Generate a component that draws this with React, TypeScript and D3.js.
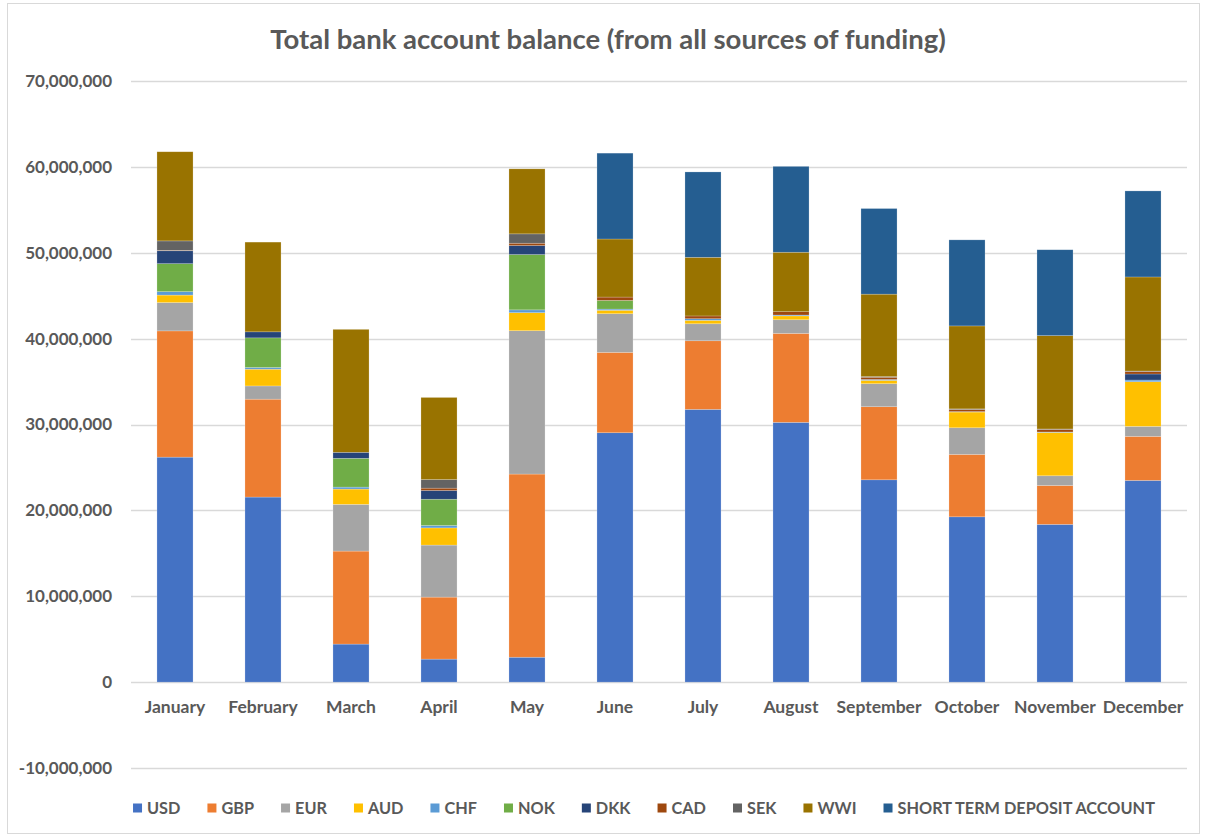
import React from "react";
import * as d3 from "d3";

const months = ["January","February","March","April","May","June","July","August","September","October","November","December"];
const seriesNames = ["USD","GBP","EUR","AUD","CHF","NOK","DKK","CAD","SEK","WWI","SHORT TERM DEPOSIT ACCOUNT"];
const seriesColors = ["#4472C4","#ED7D31","#A5A5A5","#FFC000","#5B9BD5","#70AD47","#264478","#9E480E","#636363","#997300","#255E91"];

const USD = [26_200_000,21_550_000,4_430_000,2_680_000,2_900_000,29_040_000,31_760_000,30_250_000,23_560_000,19_250_000,18_370_000,23_490_000];
const GBP = [14_700_000,11_400_000,10_830_000,7_220_000,21_330_000,9_360_000,7_990_000,10_360_000,8_510_000,7_270_000,4_530_000,5_130_000];
const EUR = [3_300_000,1_540_000,5_440_000,6_060_000,16_690_000,4_500_000,1_980_000,1_590_000,2_680_000,3_100_000,1_130_000,1_160_000];
const AUD = [870_000,1_950_000,1_780_000,2_000_000,2_100_000,400_000,400_000,450_000,390_000,1_830_000,5_050_000,5_200_000];
const CHF = [400_000,200_000,230_000,280_000,330_000,140_000,190_000,100_000,110_000,50_000,50_000,200_000];
const NOK = [3_260_000,3_450_000,3_350_000,3_060_000,6_440_000,1_010_000,0,0,0,0,0,0];
const DKK = [1_500_000,700_000,700_000,1_020_000,1_050_000,0,0,0,0,0,0,700_000];
const CAD = [50_000,0,0,270_000,270_000,390_000,320_000,390_000,250_000,250_000,300_000,300_000];
const SEK = [1_100_000,0,0,1_000_000,1_090_000,0,0,0,80_000,70_000,50_000,50_000];
const WWI = [10_380_000,10_450_000,14_320_000,9_560_000,7_570_000,6_760_000,6_830_000,6_920_000,9_600_000,9_660_000,10_870_000,10_950_000];
const STD = [0,0,0,0,0,10_000_000,9_940_000,10_000_000,9_970_000,10_020_000,10_000_000,10_020_000];

const seriesValues = [USD, GBP, EUR, AUD, CHF, NOK, DKK, CAD, SEK, WWI, STD];
const yTicks = [-10_000_000,0,10_000_000,20_000_000,30_000_000,40_000_000,50_000_000,60_000_000,70_000_000];
const yTickLabels = ["-10,000,000","0","10,000,000","20,000,000","30,000,000","40,000,000","50,000,000","60,000,000","70,000,000"];
const title = "Total bank account balance (from all sources of funding)";

const W = 1205, H = 837;
const FONT = "Lato, 'Open Sans', sans-serif";
const TXT = "#595959";

function measure(text: string, font: string): number {
  const c = document.createElement("canvas");
  const ctx = c.getContext("2d")!;
  ctx.font = font;
  return ctx.measureText(text).width;
}

export default function App() {
  const plot = { left: 131, right: 1187, top: 81, bottom: 768 };
  const x = d3.scaleBand<string>().domain(months).range([plot.left, plot.right]).paddingInner(0.59).paddingOuter(0.295);
  const y = d3.scaleLinear().domain([-10_000_000, 70_000_000]).range([plot.bottom, plot.top]);

  const rows = months.map((m, i) => {
    const r: any = { month: m };
    seriesNames.forEach((s, j) => (r[s] = seriesValues[j][i]));
    return r;
  });
  const stacked = d3.stack<any>().keys(seriesNames)(rows);

  // legend layout
  const legendFontSize = 16.3;
  const legendFont = `bold ${legendFontSize}px ${FONT}`;
  const marker = 9, mGap = 5, itemGap = 27;
  const widths = seriesNames.map((s) => marker + mGap + measure(s, legendFont));
  const total = d3.sum(widths) + itemGap * (seriesNames.length - 1);
  let cursor = 645 - total / 2;
  const legendItems = seriesNames.map((s, i) => {
    const item = { name: s, x: cursor, color: seriesColors[i] };
    cursor += widths[i] + itemGap;
    return item;
  });
  const legendY = 808;

  return (
    <svg width={W} height={H} style={{ position: "absolute", left: 0, top: 0, background: "#fff" }} fontFamily={FONT}>
      <rect x={7.5} y={3.5} width={1192} height={830} fill="#fff" stroke="#d9d9d9" strokeWidth={1} />
      <text x={608} y={49} textAnchor="middle" fontSize={27.5} fontWeight="bold" fill={TXT}>{title}</text>
      {yTicks.map((t, i) => (
        <g key={t}>
          <line x1={plot.left} x2={plot.right} y1={Math.round(y(t)) + 0.5} y2={Math.round(y(t)) + 0.5} stroke="#d9d9d9" strokeWidth={1.3} />
          <text x={112} y={y(t)} dy="0.35em" textAnchor="end" fontSize={17} fontWeight="bold" fill={TXT}>{yTickLabels[i]}</text>
        </g>
      ))}
      {stacked.map((layer, si) => (
        <g key={layer.key} fill={seriesColors[si]}>
          {layer.map((d, mi) => {
            const h = y(d[0]) - y(d[1]);
            if (h <= 0) return null;
            return (
              <rect key={mi} x={x(months[mi])} y={y(d[1])} width={x.bandwidth()} height={h}
                stroke="#ffffff" strokeOpacity={0.35} strokeWidth={0.6} />
            );
          })}
        </g>
      ))}
      {months.map((m) => (
        <text key={m} x={(x(m) as number) + x.bandwidth() / 2} y={713} textAnchor="middle" fontSize={17.5} fontWeight="bold" fill={TXT}>{m}</text>
      ))}
      {legendItems.map((it) => (
        <g key={it.name}>
          <rect x={it.x} y={legendY - marker / 2} width={marker} height={marker} fill={it.color} />
          <text x={it.x + marker + mGap} y={legendY} dy="0.35em" fontSize={legendFontSize} fontWeight="bold" fill={TXT}>{it.name}</text>
        </g>
      ))}
    </svg>
  );
}
